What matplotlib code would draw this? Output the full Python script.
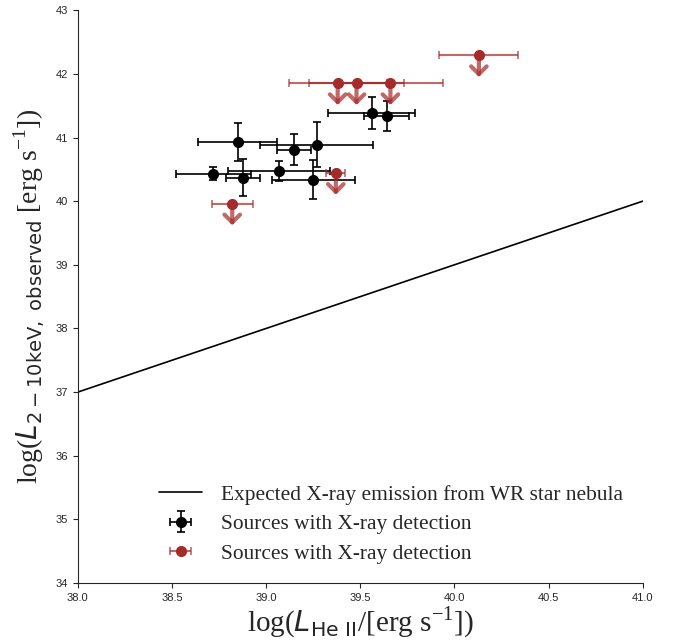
import numpy as np
import matplotlib
matplotlib.use("Agg")
import matplotlib.pyplot as plt
import seaborn as sns

sns.set_style("ticks")
plt.rcParams['font.family'] = ['Liberation Sans', 'DejaVu Sans']
plt.rcParams['mathtext.fontset'] = 'custom'
plt.rcParams['mathtext.rm'] = 'Liberation Serif'
plt.rcParams['mathtext.it'] = 'DejaVu Sans:italic'
plt.rcParams['mathtext.sf'] = 'DejaVu Sans'

# detected sources
det_x = [38.72, 38.875, 38.85, 39.07, 39.15, 39.27, 39.25, 39.56, 39.64]
det_y = [40.43, 40.37, 40.93, 40.47, 40.81, 40.89, 40.34, 41.39, 41.34]
det_xerr = [0.20, 0.09, 0.21, 0.27, 0.09, 0.30, 0.22, 0.23, 0.12]
det_yerr = [0.10, 0.29, 0.30, 0.16, 0.24, 0.35, 0.31, 0.25, 0.23]

# upper limits
lim_x = [38.82, 39.37, 39.38, 39.48, 39.66, 40.13]
lim_y = [39.96, 40.44, 41.85, 41.85, 41.85, 42.29]
lim_xerr = [0.11, 0.05, 0.26, 0.25, 0.28, 0.21]

# expected X-ray emission from WR nebula
line_x = [38.0, 41.0]
line_y = [37.0, 40.0]

red = '#a52a2a'

fig = plt.figure(figsize=(6.83, 6.41), dpi=100)
ax = fig.add_axes([0.114, 0.0905, 0.827, 0.8935])

ax.plot(line_x, line_y, color='black', lw=1.2,
        label='Expected X-ray emission from WR star nebula')
ax.errorbar(det_x, det_y, xerr=det_xerr, yerr=det_yerr, fmt='o', color='black',
            ms=7, elinewidth=1.2, capsize=3, capthick=1.2,
            label='Sources with X-ray detection')
ax.errorbar(lim_x, lim_y, xerr=lim_xerr, fmt='o', color=red, ms=7,
            ecolor=(0.65, 0.16, 0.16, 0.7), elinewidth=1.5, capsize=3,
            capthick=1.2, label='Sources with X-ray detection')
for x, y in zip(lim_x, lim_y):
    ax.annotate('', xy=(x, y - 0.34), xytext=(x, y),
                arrowprops=dict(arrowstyle='->,head_length=0.4,head_width=0.4',
                                color=red, alpha=0.7, lw=3,
                                mutation_scale=14, shrinkA=0, shrinkB=0))

ax.set_xlim(38.0, 41.0)
ax.set_ylim(34, 43)
ax.set_xticks([38.0, 38.5, 39.0, 39.5, 40.0, 40.5, 41.0])
ax.set_xticklabels(['38.0', '38.5', '39.0', '39.5', '40.0', '40.5', '41.0'])
ax.tick_params(labelsize=8)
sns.despine(ax=ax)

ax.set_xlabel(r'log($L_{\mathsf{He\ II}}$/[erg s$^{-1}$])',
              family='Liberation Serif', fontsize=21, labelpad=1)
ax.set_ylabel(r'log($L_{\mathsf{2-10keV,\ observed}}$ [erg s$^{-1}$])',
              family='Liberation Serif', fontsize=20, labelpad=6)

ax.legend(loc='lower left', bbox_to_anchor=(0.11, 0.0), frameon=False,
          prop={'family': 'Liberation Serif', 'size': 15.4}, handlelength=2.0,
          handletextpad=0.9, labelspacing=0.45)

fig.savefig('out.png', dpi=100)
